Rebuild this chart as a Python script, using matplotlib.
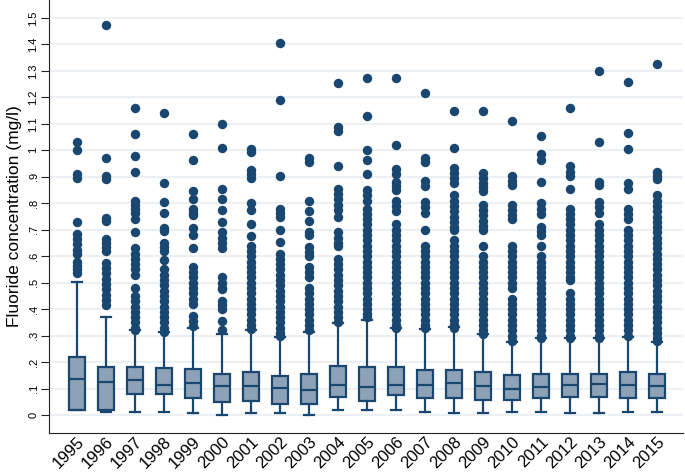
import matplotlib
matplotlib.use('Agg')
import matplotlib.pyplot as plt

plt.rcParams['font.family'] = ['Liberation Sans', 'DejaVu Sans']

# years on the x axis
years = [str(y) for y in range(1995, 2016)]

# box statistics (mg/l)
whislo = [0.02, 0.013, 0.013, 0.013, 0.006, 0.0, 0.006, 0.006, 0.0, 0.021, 0.021,
          0.021, 0.013, 0.009, 0.009, 0.013, 0.013, 0.009, 0.006, 0.011, 0.013]
q1 = [0.021, 0.019, 0.078, 0.081, 0.063, 0.048, 0.052, 0.042, 0.040, 0.067, 0.053,
      0.076, 0.066, 0.063, 0.057, 0.057, 0.063, 0.069, 0.069, 0.066, 0.066]
med = [0.136, 0.126, 0.132, 0.115, 0.120, 0.111, 0.110, 0.101, 0.094, 0.112, 0.105,
       0.113, 0.115, 0.122, 0.110, 0.098, 0.105, 0.112, 0.117, 0.115, 0.111]
q3 = [0.220, 0.183, 0.183, 0.179, 0.173, 0.155, 0.161, 0.147, 0.155, 0.185, 0.183,
      0.183, 0.170, 0.170, 0.161, 0.151, 0.157, 0.157, 0.157, 0.161, 0.155]
whishi = [0.501, 0.369, 0.321, 0.315, 0.330, 0.305, 0.321, 0.296, 0.312, 0.346, 0.361,
          0.330, 0.327, 0.331, 0.305, 0.277, 0.290, 0.290, 0.290, 0.296, 0.277]

# outside values per year
fliers = [
    # 1995
    [1.03, 1.0, 0.91, 0.895, 0.73, 0.685, 0.665, 0.645, 0.625, 0.61, 0.58, 0.565, 0.55, 0.535],
    # 1996
    [1.475, 0.97, 0.905, 0.89, 0.745, 0.735, 0.665, 0.65, 0.635, 0.62, 0.575, 0.555, 0.535,
     0.515, 0.495, 0.475, 0.455, 0.435, 0.415],
    # 1997
    [1.16, 1.06, 0.98, 0.92, 0.81, 0.795, 0.78, 0.765, 0.74, 0.69, 0.63, 0.61, 0.59, 0.57,
     0.55, 0.53, 0.48, 0.45, 0.43, 0.41, 0.39, 0.37, 0.35, 0.33, 0.32],
    # 1998
    [1.14, 0.875, 0.805, 0.765, 0.705, 0.695, 0.65, 0.635, 0.62, 0.585, 0.55, 0.53, 0.51,
     0.49, 0.47, 0.45, 0.43, 0.41, 0.39, 0.37, 0.35, 0.33, 0.315],
    # 1999
    [1.06, 0.965, 0.845, 0.815, 0.78, 0.765, 0.755, 0.705, 0.68, 0.63, 0.56, 0.54, 0.52,
     0.50, 0.48, 0.46, 0.44, 0.42, 0.375, 0.355, 0.335],
    # 2000
    [1.10, 1.01, 0.855, 0.815, 0.775, 0.73, 0.69, 0.67, 0.65, 0.63, 0.52, 0.50, 0.48,
     0.475, 0.43, 0.415, 0.40, 0.355, 0.32],
    # 2001
    [1.005, 0.995, 0.925, 0.91, 0.895, 0.80, 0.775, 0.72, 0.675, 0.64, 0.62, 0.60, 0.58,
     0.56, 0.54, 0.52, 0.50, 0.48, 0.46, 0.44, 0.42, 0.40, 0.38, 0.36, 0.34, 0.325],
    # 2002
    [1.405, 1.19, 0.905, 0.78, 0.765, 0.75, 0.70, 0.655, 0.61, 0.59, 0.57, 0.55, 0.53,
     0.51, 0.49, 0.47, 0.45, 0.43, 0.41, 0.39, 0.37, 0.35, 0.33, 0.31, 0.30],
    # 2003
    [0.97, 0.955, 0.81, 0.77, 0.735, 0.69, 0.68, 0.635, 0.615, 0.60, 0.56, 0.54, 0.52,
     0.48, 0.46, 0.44, 0.42, 0.40, 0.38, 0.36, 0.34, 0.32],
    # 2004
    [1.255, 1.09, 1.075, 0.94, 0.855, 0.835, 0.815, 0.795, 0.775, 0.75, 0.69, 0.67, 0.65,
     0.64, 0.59, 0.57, 0.55, 0.53, 0.51, 0.49, 0.47, 0.45, 0.43, 0.41, 0.39, 0.37, 0.35],
    # 2005
    [1.275, 1.13, 1.0, 0.965, 0.91, 0.85, 0.83, 0.81, 0.78, 0.76, 0.74, 0.72, 0.70, 0.68,
     0.66, 0.64, 0.62, 0.60, 0.58, 0.56, 0.54, 0.52, 0.50, 0.48, 0.46, 0.44, 0.42, 0.40,
     0.38, 0.37],
    # 2006
    [1.275, 1.02, 0.93, 0.91, 0.88, 0.865, 0.85, 0.81, 0.79, 0.77, 0.72, 0.70, 0.68, 0.66,
     0.64, 0.62, 0.60, 0.58, 0.56, 0.54, 0.52, 0.50, 0.48, 0.46, 0.44, 0.42, 0.40, 0.38,
     0.36, 0.34, 0.33],
    # 2007
    [1.215, 0.97, 0.955, 0.885, 0.865, 0.805, 0.785, 0.765, 0.70, 0.64, 0.62, 0.60, 0.58,
     0.56, 0.54, 0.52, 0.50, 0.48, 0.46, 0.44, 0.42, 0.40, 0.38, 0.36, 0.34, 0.33],
    # 2008
    [1.15, 1.01, 0.935, 0.915, 0.895, 0.875, 0.83, 0.81, 0.79, 0.77, 0.75, 0.73, 0.71,
     0.70, 0.66, 0.64, 0.62, 0.60, 0.58, 0.56, 0.54, 0.52, 0.50, 0.48, 0.46, 0.44, 0.42,
     0.40, 0.38, 0.36, 0.34, 0.33],
    # 2009
    [1.15, 0.915, 0.895, 0.875, 0.86, 0.845, 0.795, 0.775, 0.755, 0.735, 0.715, 0.70,
     0.64, 0.60, 0.58, 0.56, 0.54, 0.52, 0.50, 0.48, 0.46, 0.44, 0.42, 0.40, 0.38, 0.36,
     0.34, 0.32, 0.305],
    # 2010
    [1.11, 0.905, 0.885, 0.87, 0.795, 0.775, 0.755, 0.74, 0.64, 0.62, 0.60, 0.58, 0.56,
     0.54, 0.52, 0.50, 0.48, 0.44, 0.42, 0.40, 0.38, 0.36, 0.34, 0.32, 0.30, 0.28],
    # 2011
    [1.055, 0.985, 0.965, 0.88, 0.80, 0.78, 0.76, 0.71, 0.695, 0.68, 0.64, 0.60, 0.58,
     0.56, 0.54, 0.52, 0.50, 0.48, 0.46, 0.44, 0.42, 0.40, 0.38, 0.36, 0.34, 0.32, 0.30,
     0.29],
    # 2012
    [1.16, 0.94, 0.92, 0.905, 0.855, 0.78, 0.76, 0.74, 0.72, 0.70, 0.68, 0.66, 0.64, 0.62,
     0.60, 0.58, 0.56, 0.54, 0.52, 0.51, 0.46, 0.44, 0.42, 0.40, 0.38, 0.36, 0.34, 0.32,
     0.30, 0.29],
    # 2013
    [1.30, 1.03, 0.88, 0.87, 0.805, 0.785, 0.765, 0.72, 0.70, 0.68, 0.66, 0.64, 0.62,
     0.60, 0.58, 0.56, 0.54, 0.52, 0.50, 0.48, 0.46, 0.44, 0.42, 0.40, 0.38, 0.36, 0.34,
     0.32, 0.30, 0.29],
    # 2014
    [1.26, 1.065, 1.005, 0.875, 0.855, 0.78, 0.76, 0.74, 0.70, 0.68, 0.66, 0.64, 0.62,
     0.60, 0.58, 0.56, 0.54, 0.52, 0.50, 0.48, 0.46, 0.44, 0.42, 0.40, 0.38, 0.36, 0.34,
     0.32, 0.30],
    # 2015
    [1.325, 0.92, 0.905, 0.89, 0.83, 0.81, 0.79, 0.77, 0.75, 0.73, 0.71, 0.69, 0.67, 0.65,
     0.63, 0.61, 0.59, 0.57, 0.55, 0.53, 0.51, 0.49, 0.47, 0.45, 0.43, 0.41, 0.39, 0.37,
     0.35, 0.33, 0.31, 0.29, 0.28],
]

yticks = [i / 10 for i in range(16)]
ytick_labels = ['0', '.1', '.2', '.3', '.4', '.5', '.6', '.7', '.8', '.9',
                '1', '1.1', '1.2', '1.3', '1.4', '1.5']

navy = '#1a476f'
boxfill = '#8ea2b7'

stats = []
for i in range(len(years)):
    stats.append(dict(whislo=whislo[i], q1=q1[i], med=med[i], q3=q3[i],
                      whishi=whishi[i], fliers=fliers[i], label=years[i]))

fig = plt.figure(figsize=(6.85, 4.73), dpi=100)
ax = fig.add_axes([0.0715, 0.085, 0.9255, 0.915])

# grid first so boxes sit on top
for t in yticks:
    ax.axhline(t, color='#eaf0f3', lw=1.5, zorder=0)

ax.bxp(stats, positions=range(len(years)), widths=0.55, capwidths=0.33,
       patch_artist=True, showfliers=True,
       boxprops=dict(facecolor=boxfill, edgecolor=navy, linewidth=1.6),
       medianprops=dict(color=navy, linewidth=1.6),
       whiskerprops=dict(color=navy, linewidth=1.6),
       capprops=dict(color=navy, linewidth=1.6),
       flierprops=dict(marker='o', markerfacecolor=navy, markeredgecolor=navy,
                       markeredgewidth=0, markersize=6.8, linestyle='none'))

ax.set_xlim(-0.97, 20.9)
ax.set_ylim(-0.067, 1.568)
ax.set_yticks(yticks)
ax.set_yticklabels(ytick_labels, rotation=90, va='center', fontsize=8)
ax.set_xticks(range(len(years)))
ax.set_xticklabels(years, rotation=45, ha='right', rotation_mode='anchor', fontsize=12)
ax.tick_params(axis='x', length=0, pad=1)
ax.tick_params(axis='y', length=5.5, width=0.8, color='#222222', pad=2)
ax.set_ylabel('Fluoride concentration (mg/l)', fontsize=12.5, labelpad=5)

ax.spines['top'].set_visible(False)
ax.spines['right'].set_visible(False)
ax.spines['left'].set_color('#222222')
ax.spines['bottom'].set_color('#222222')

fig.savefig('out.png', dpi=100)
